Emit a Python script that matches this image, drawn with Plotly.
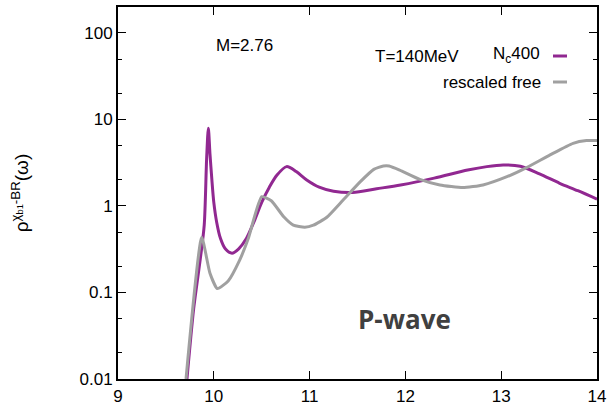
import plotly.graph_objects as go

# N_c400 series
nc_x = [9.72, 9.79, 9.86, 9.90, 9.925, 9.943, 9.96, 9.98, 10.0, 10.03, 10.07, 10.12,
        10.19, 10.26, 10.34, 10.42, 10.50, 10.58, 10.66, 10.76, 10.86, 10.97, 11.10,
        11.25, 11.45, 11.70, 11.95, 12.30, 12.65, 12.85, 13.02, 13.20, 13.40, 13.61,
        13.80, 14.0]
nc_y = [0.01, 0.065, 0.25, 0.6, 3.5, 7.9, 4.0, 2.0, 1.1, 0.65, 0.42, 0.32,
        0.285, 0.32, 0.42, 0.66, 1.1, 1.65, 2.28, 2.85, 2.5, 2.0, 1.65,
        1.48, 1.43, 1.58, 1.75, 2.1, 2.6, 2.85, 2.98, 2.88, 2.35, 1.83,
        1.5, 1.2]

# rescaled free series
free_x = [9.71, 9.874, 9.96, 10.037, 10.15, 10.27, 10.36, 10.50, 10.60, 10.73, 10.83,
          10.95, 11.04, 11.18, 11.35, 11.53, 11.67, 11.77, 11.83, 11.94, 12.15, 12.36,
          12.60, 12.81, 13.06, 13.27, 13.51, 13.75, 13.89, 14.0]
free_y = [0.01, 0.435, 0.167, 0.111, 0.136, 0.237, 0.42, 1.28, 1.15, 0.75, 0.6,
          0.567, 0.6, 0.74, 1.17, 1.91, 2.65, 2.9, 2.9, 2.6, 2.03, 1.75,
          1.63, 1.75, 2.18, 2.8, 3.89, 5.3, 5.7, 5.7]

x_ticks = [9, 10, 11, 12, 13, 14]
y_ticks = [0.01, 0.1, 1, 10, 100]
y_ticktext = ["0.01", "0.1", "1", "10", "100"]
y_minor = [0.02, 0.05, 0.2, 0.5, 2, 5, 20, 50]

PURPLE = "#912891"
GRAY = "#a0a0a0"
FONT = "Liberation Sans"

fig = go.Figure()
fig.add_trace(go.Scatter(x=nc_x, y=nc_y, mode="lines",
                         line=dict(color=PURPLE, width=3, shape="spline", smoothing=0.8),
                         showlegend=False))
fig.add_trace(go.Scatter(x=free_x, y=free_y, mode="lines",
                         line=dict(color=GRAY, width=3, shape="spline", smoothing=0.5),
                         showlegend=False))

W, H = 610, 406
L, R, T, B = 118, 13, 7, 27
pw, ph = W - L - R, H - T - B


def px(x):
    return (x - L) / pw


def py(y):
    return (H - B - y) / ph


ann = [
    dict(text="M=2.76", x=px(244), y=py(45), xanchor="center", yanchor="middle",
         font=dict(size=17)),
    dict(text="T=140MeV", x=px(461), y=py(56), xanchor="right", yanchor="middle",
         font=dict(size=17)),
    dict(text="N<sub>c</sub>400", x=px(542), y=py(55), xanchor="right", yanchor="middle",
         font=dict(size=17)),
    dict(text="rescaled free", x=px(543), y=py(82), xanchor="right", yanchor="middle",
         font=dict(size=17)),
    dict(text="<b>P-wave</b>", x=px(404), y=py(319), xanchor="center", yanchor="middle",
         font=dict(size=26, family="Open Sans", color="#404040")),
]
for a in ann:
    a.update(xref="paper", yref="paper", showarrow=False)
    a["font"].setdefault("family", FONT)
    a["font"].setdefault("color", "black")

shapes = [
    dict(type="line", xref="paper", yref="paper", x0=px(553), x1=px(567),
         y0=py(56), y1=py(56), line=dict(color=PURPLE, width=3)),
    dict(type="line", xref="paper", yref="paper", x0=px(553), x1=px(567),
         y0=py(82), y1=py(82), line=dict(color=GRAY, width=3)),
]

fig.update_layout(
    width=W, height=H,
    margin=dict(l=L, r=R, t=T, b=B),
    paper_bgcolor="white", plot_bgcolor="white",
    font=dict(family=FONT, size=17, color="black"),
    annotations=ann, shapes=shapes,
    xaxis=dict(range=[9, 14], tickvals=x_ticks, ticks="inside", ticklen=8,
               tickwidth=1, tickcolor="black", showline=True, linecolor="black",
               linewidth=1.8, mirror="allticks", showgrid=False, zeroline=False,
               tickfont=dict(size=17), ticklabelstandoff=1, automargin=False),
    yaxis=dict(type="log", range=[-2, 2.30], tickvals=y_ticks, ticktext=y_ticktext,
               ticks="inside", ticklen=8, tickwidth=1, tickcolor="black",
               showline=True, linecolor="black", linewidth=1.8, mirror="allticks",
               showgrid=False, zeroline=False, tickfont=dict(size=17),
               automargin=False,
               minor=dict(tickvals=y_minor, ticks="inside", ticklen=4,
                          tickcolor="black", tickwidth=1, showgrid=False),
               title=dict(text="ρ<sup>χ<sub>b1</sub>-BR</sup>(ω)",
                          font=dict(size=19), standoff=46)),
)

fig.write_html("out.html")
